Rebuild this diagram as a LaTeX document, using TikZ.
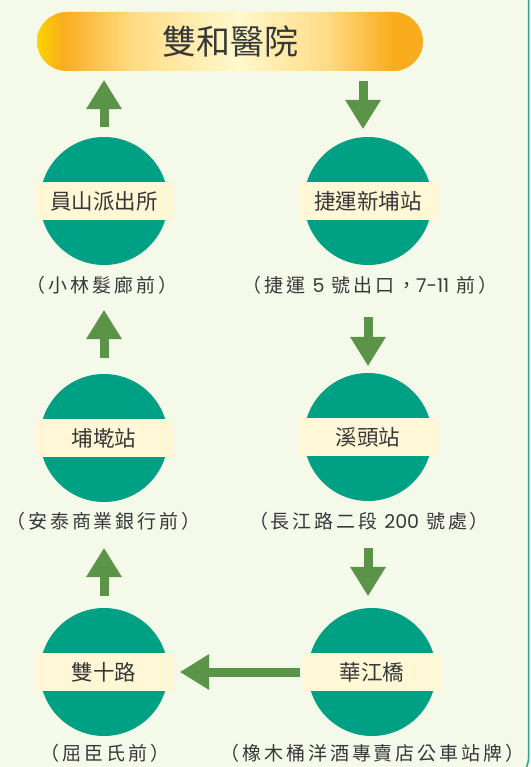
\documentclass[tikz,border=0pt]{standalone}
\usepackage{fontspec}
\setmainfont{Noto Sans CJK TC}
\newfontfamily\subfont[LetterSpace=15]{Noto Sans CJK TC}
\newfontfamily\latinf{Poppins}
\usetikzlibrary{arrows.meta}
\definecolor{bg}{HTML}{F5F9E9}
\definecolor{tealc}{HTML}{00A084}
\definecolor{edgec}{HTML}{2AA68A}
\definecolor{cream}{HTML}{FFF7D6}
\definecolor{agreen}{HTML}{5B9449}
\definecolor{txt}{HTML}{383838}
\definecolor{byel}{HTML}{FFD200}
\definecolor{borg}{HTML}{F9AD1E}
\definecolor{blt}{HTML}{FFDC86}
\definecolor{bcr}{HTML}{FFF9CC}
\pgfdeclarehorizontalshading{bannershade}{100bp}{color(0bp)=(byel); color(25bp)=(byel); color(28.4bp)=(borg); color(37.5bp)=(blt); color(51bp)=(bcr); color(62.5bp)=(blt); color(71bp)=(borg); color(75bp)=(borg); color(100bp)=(borg)}
\begin{document}
\begin{tikzpicture}[x=1pt,y=-1pt,
  circ/.style={circle, fill=tealc, minimum size=128pt, inner sep=0pt},
  band/.style={fill=cream, minimum width=138pt, minimum height=37.5pt, inner sep=0pt, text=txt, font=\fontsize{21.5}{24}\selectfont},
  sub/.style={text=txt, inner sep=0pt, font=\subfont\fontsize{19}{22}\selectfont},
  arr/.style={draw=agreen, line width=9pt, -{Triangle[length=29pt,width=36pt,line width=0pt]}}
]
\useasboundingbox (0,0) rectangle (530,767);
\fill[bg] (0,0) rectangle (530,767);
\draw[edgec, line width=1.5pt, rounded corners=25pt] (-40,-40) rectangle (528.6,782);

\node[shade, shading=bannershade, rounded corners=29.5pt, minimum width=386pt, minimum height=59pt, inner sep=0pt, text=txt, font=\fontsize{34}{40}\selectfont] (hosp) at (230,41.5) {雙和醫院};

\node[circ] (c1) at (104,201) {};
\node[band] (s1) at (104,201) {員山派出所};
\node[sub] (l1) at (102,285) {（小林髮廊前）};

\node[circ] (c2) at (368,201) {};
\node[band] (s2) at (368,201) {捷運新埔站};
\node[sub] (l2) at (370,285) {（捷運 {\latinf 5} 號出口，{\latinf 7-11} 前）};

\node[circ] (c3) at (104,438) {};
\node[band] (s3) at (104,438) {埔墘站};
\node[sub] (l3) at (103.5,521) {（安泰商業銀行前）};

\node[circ] (c4) at (368,437) {};
\node[band] (s4) at (368,437) {溪頭站};
\node[sub] (l4) at (369,521) {（長江路二段 {\latinf 200} 號處）};

\node[circ] (c5) at (104,672) {};
\node[band] (s5) at (104,672) {雙十路};
\node[sub] (l5) at (105,753) {（屈臣氏前）};

\node[circ] (c6) at (372,672) {};
\node[band] (s6) at (372,672) {華江橋};
\node[sub] (l6) at (372.5,753) {（橡木桶洋酒專賣店公車站牌）};

\draw[arr, shorten <=10pt, shorten >=9pt] (c1.north) -- (c1.north |- hosp.south);
\draw[arr, shorten <=10pt, shorten >=8pt] ([xshift=-5pt]c2.north |- hosp.south) -- ([xshift=-5pt]c2.north);
\draw[arr, shorten <=52pt, shorten >=7pt] (c2.south) -- (c4.north);
\draw[arr, shorten <=47pt, shorten >=12pt] (c4.south) -- (c4.south |- c6.north);
\draw[arr, shorten <=3pt, shorten >=7pt] (s6.west) -- (s5.east);
\draw[arr, shorten <=12pt, shorten >=46pt] (c5.north) -- (c3.south);
\draw[arr, shorten <=16pt, shorten >=45pt] (c3.north) -- (c1.south);
\end{tikzpicture}
\end{document}
